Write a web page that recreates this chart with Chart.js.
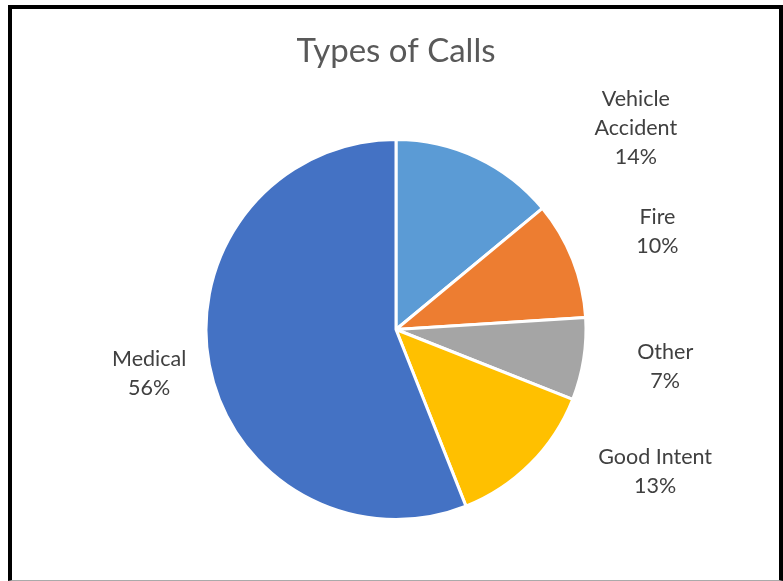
<!DOCTYPE html>
<html>
<head>
<meta charset="utf-8">
<title>Types of Calls</title>
<script src="https://cdn.jsdelivr.net/npm/chart.js@4/dist/chart.umd.min.js"></script>
<style>
    html, body { margin: 0; padding: 0; background: #fff; }
    #frame {
        position: absolute; left: 8px; top: 5px;
        width: 775px; height: 576px; box-sizing: border-box;
        border: 4px solid #000; border-bottom: 1px solid #aaa;
    }
    #wrap { position: absolute; left: 0; top: 0; width: 783px; height: 581px; }
</style>
</head>
<body>
<div id="frame"></div>
<div id="wrap"><canvas id="callsChart"></canvas></div>
<script>
// Chart data, clockwise from 12 o'clock
const categories = ['Vehicle Accident', 'Fire', 'Other', 'Good Intent', 'Medical'];
const percents = [14, 10, 7, 13, 56];
const sliceColors = ['#5B9BD5', '#ED7D31', '#A5A5A5', '#FFC000', '#4472C4'];

// Excel-style "best fit" nudges for the outside labels: [angle shift in deg, distance in radii]
const labelNudge = [[24.7, 1.65], [1.0, 1.47], [-1.2, 1.43], [-16.3, 1.555], [0.6, 1.32]];

const outsideLabels = {
    id: 'outsideLabels',
    afterDatasetsDraw(chart) {
        const ctx = chart.ctx;
        const meta = chart.getDatasetMeta(0);
        const data = chart.data.datasets[0].data;
        const total = data.reduce((a, b) => a + b, 0);
        const lineH = 29;
        ctx.save();
        ctx.font = '21.5px Lato';
        ctx.fillStyle = '#404040';
        ctx.textAlign = 'center';
        ctx.textBaseline = 'middle';
        meta.data.forEach((arc, i) => {
            const p = arc.getProps(['x', 'y', 'startAngle', 'endAngle', 'outerRadius'], true);
            const nudge = labelNudge[i] || [0, 1.4];
            const a = (p.startAngle + p.endAngle) / 2 + nudge[0] * Math.PI / 180;
            const r = p.outerRadius * nudge[1];
            const lx = p.x + Math.cos(a) * r;
            const ly = p.y + Math.sin(a) * r;

            // wrap long category names the way Excel does
            const name = chart.data.labels[i];
            let lines = [name];
            if (ctx.measureText(name).width > 130) lines = name.split(' ');
            lines.push(Math.round(data[i] / total * 100) + '%');

            const top = ly - (lines.length - 1) * lineH / 2;
            lines.forEach((t, k) => ctx.fillText(t, lx, top + k * lineH));
        });
        ctx.restore();
    }
};

const ctx = document.getElementById('callsChart').getContext('2d');
const callsChart = new Chart(ctx, {
    type: 'pie',
    data: {
        labels: categories,
        datasets: [{
            data: percents,
            backgroundColor: sliceColors,
            borderColor: '#ffffff',
            borderWidth: 3,
            hoverOffset: 0
        }]
    },
    options: {
        responsive: true,
        maintainAspectRatio: false,
        animation: false,
        layout: { padding: { left: 9, right: 0, top: 0, bottom: 60 } },
        plugins: {
            legend: { display: false },
            tooltip: { enabled: false },
            title: {
                display: true,
                text: 'Types of Calls',
                color: '#595959',
                font: { family: 'Lato', size: 33, weight: 'normal' },
                padding: { top: 32, bottom: 66.4 }
            }
        }
    },
    plugins: [outsideLabels]
});
</script>
</body>
</html>
